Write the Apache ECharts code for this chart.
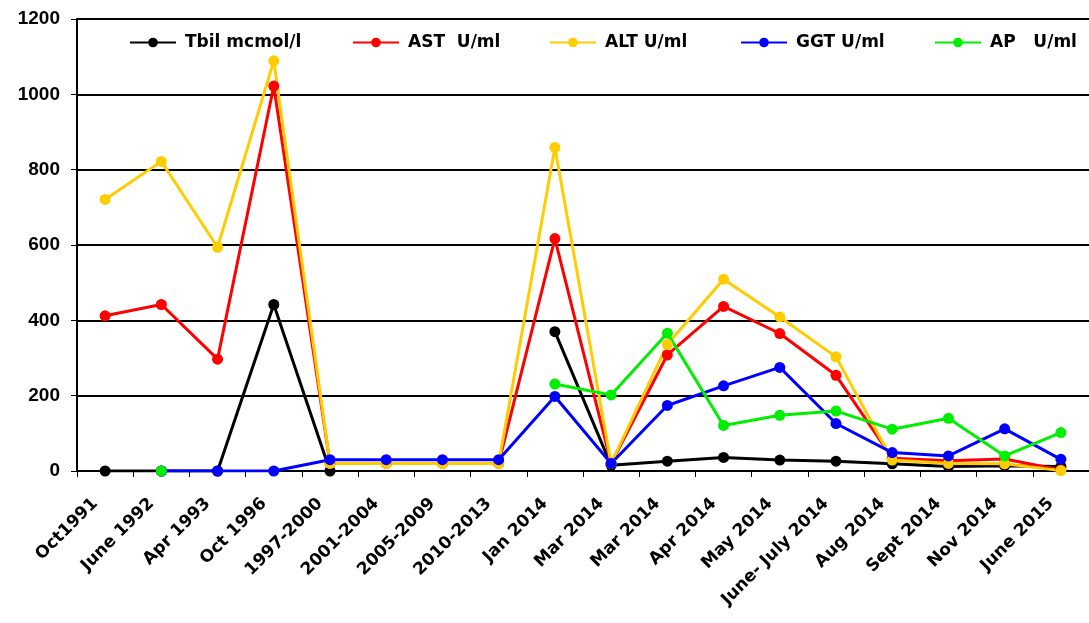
<!DOCTYPE html>
<html>
<head>
<meta charset="utf-8">
<script src="https://cdn.jsdelivr.net/npm/echarts@6/dist/echarts.min.js"></script>
<style>html,body{margin:0;padding:0;background:#fff}#c{width:1089px;height:623px}</style>
</head>
<body>
<div id="c"></div>
<script>
const categories = ["Oct1991","June 1992","Apr 1993","Oct 1996","1997-2000","2001-2004","2005-2009","2010-2013","Jan 2014","Mar 2014","Mar 2014","Apr 2014","May 2014","June- July 2014","Aug 2014","Sept 2014","Nov 2014","June 2015"];
const seriesNames = ["Tbil mcmol/l","AST  U/ml","ALT U/ml","GGT U/ml","AP   U/ml"];
const tbil = [0,0,0,442,0,null,null,null,370,15,26,36,29,26,19,12,14,12];
const ast  = [412,442,297,1022,20,20,20,20,617,20,308,437,365,254,34,27,32,3];
const alt  = [721,822,594,1089,20,20,20,20,859,20,336,509,409,303,29,20,19,1];
const ggt  = [null,0,0,0,30,30,30,30,198,20,174,226,275,126,49,40,112,31];
const ap   = [null,0,null,null,null,null,null,null,231,202,366,121,148,159,111,140,40,102];
const yTicks = {min:0, max:1200, interval:200};
const colors = ["#000000","#ff0000","#ffcc00","#0000ff","#00ee00"];
const legendLeft = [124, 347, 544, 735, 929];

const chart = echarts.init(document.getElementById('c'));
const dataSets = [tbil, ast, alt, ggt, ap];
chart.setOption({
  animation: false,
  backgroundColor: '#fff',
  grid: {left: 77, right: -8, top: 19, bottom: 152, containLabel: false},
  legend: seriesNames.map((n, i) => ({
    top: 29, left: legendLeft[i],
    itemWidth: 46, itemHeight: 12,
    textStyle: {fontFamily: 'DejaVu Sans', fontWeight: 'bold', fontSize: 17, color: '#000', padding: [0,0,0,4]},
    data: [n]
  })),
  xAxis: {
    type: 'category', data: categories, boundaryGap: true,
    axisLine: {lineStyle: {color: '#000', width: 2}},
    axisTick: {show: true, alignWithLabel: false, length: 6, lineStyle: {color: '#000', width: 1}},
    axisLabel: {rotate: 45, interval: 0, margin: 20, padding: [0, 14, 0, 0], fontFamily: 'DejaVu Sans', fontWeight: 'bold', fontSize: 17, color: '#000'}
  },
  yAxis: {
    type: 'value', min: yTicks.min, max: yTicks.max, interval: yTicks.interval,
    axisLine: {show: true, lineStyle: {color: '#000', width: 2}},
    axisTick: {show: true, length: 6, lineStyle: {color: '#000'}},
    splitLine: {lineStyle: {color: '#000', width: 2}},
    axisLabel: {margin: 17, formatter: v => String(v), fontFamily: 'Liberation Sans', fontWeight: 'bold', fontSize: 19, color: '#000'}
  },
  series: dataSets.map((d, i) => ({
    name: seriesNames[i], type: 'line', data: d,
    connectNulls: false,
    symbol: 'circle', symbolSize: 11, showAllSymbol: true,
    lineStyle: {color: colors[i], width: 3},
    itemStyle: {color: colors[i]}
  }))
});
</script>
</body>
</html>
